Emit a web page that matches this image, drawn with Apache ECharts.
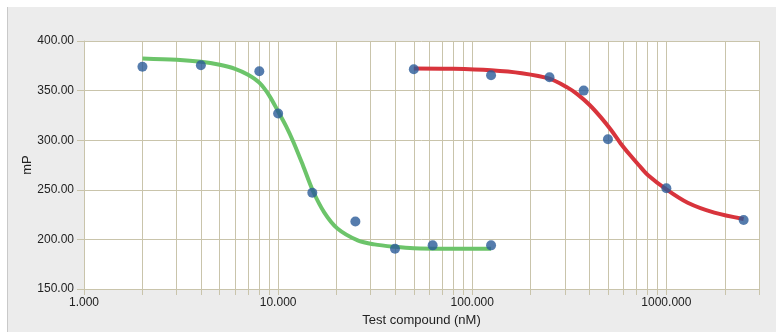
<!DOCTYPE html>
<html><head><meta charset="utf-8">
<script src="https://cdn.jsdelivr.net/npm/echarts@6/dist/echarts.min.js"></script>
<style>
html,body{margin:0;padding:0;background:#fff;}
#panel{position:absolute;left:7px;top:7px;width:769px;height:325px;background:#ececec;border-left:1px solid #c9c9c9;}
#chart{position:absolute;left:0;top:0;width:776px;height:332px;}
</style></head>
<body>
<div id="panel"></div>
<div id="chart"></div>
<script>
// Tick values for the log x-axis
const xLabelValues = [1, 10, 100, 1000];
const xTickValues = [1,2,3,4,5,6,7,8,9,10,20,30,40,50,60,70,80,90,100,200,300,400,500,600,700,800,900,1000,2000,3000];
const yTicks = [150, 200, 250, 300, 350, 400];

// Data points (blue dots)
const dotsX = [2, 4, 8, 10, 15, 25, 40, 62.5, 125, 50, 125, 250, 375, 500, 1000, 2500];
const dotsY = [374, 375.5, 369.5, 327, 247, 218, 190.5, 194, 194, 371.5, 365.5, 363.5, 350, 301, 251.5, 219.5];

// Green fitted curve
const greenX = [2, 3, 4, 5, 6, 7, 8, 9, 10, 11, 12, 13.4, 15.1, 17.3, 20.2, 25.7, 31.3, 40, 50, 70, 125];
const greenY = [382.4, 381, 379, 376, 372, 366, 358, 345, 329, 314, 298, 275, 249, 227, 211, 199, 195, 192.5, 191, 190.5, 190.5];

// Red fitted curve
const redX = [50, 80, 125, 180, 250, 310, 350, 400, 460, 520, 580, 650, 720, 802, 1000, 1288, 1766, 2500];
const redY = [372.3, 372, 370.5, 367.5, 362, 353, 346, 336, 323, 310, 297, 285, 275, 265, 250.5, 237, 227, 220.5];

const zip = (a, b) => a.map((v, i) => [v, b[i]]);
const gridColor = '#c9c4ab';

const chart = echarts.init(document.getElementById('chart'), null, {renderer: 'canvas'});
chart.setOption({
  animation: false,
  backgroundColor: 'transparent',
  grid: {left: 84, right: 17, top: 41, bottom: 43, show: true, backgroundColor: '#fff', borderWidth: 0},
  xAxis: {
    type: 'log', logBase: 10, min: 1, max: 3000,
    name: 'Test compound (nM)', nameLocation: 'middle', nameGap: 24,
    nameTextStyle: {fontFamily: 'Liberation Sans', fontSize: 13, color: '#222'},
    axisLine: {show: true, lineStyle: {color: gridColor, width: 1}},
    axisTick: {show: true, length: 6, customValues: xTickValues, lineStyle: {color: gridColor}},
    axisLabel: {customValues: xLabelValues, formatter: v => Number(v).toFixed(3), fontFamily: 'Liberation Sans', fontSize: 12, color: '#222', margin: 8},
    splitLine: {show: true, lineStyle: {color: gridColor, width: 1}},
    minorTick: {show: false}
  },
  yAxis: {
    type: 'value', min: yTicks[0], max: yTicks[yTicks.length - 1], interval: 50,
    name: 'mP', nameLocation: 'middle', nameGap: 50, nameRotate: 90, nameMoveOverlap: false,
    nameTextStyle: {fontFamily: 'Liberation Sans', fontSize: 13, color: '#222'},
    axisLine: {show: true, lineStyle: {color: gridColor, width: 1}},
    axisTick: {show: true, length: 7, lineStyle: {color: gridColor}},
    axisLabel: {formatter: v => v.toFixed(2), fontFamily: 'Liberation Sans', fontSize: 12, color: '#222', margin: 10},
    splitLine: {show: true, lineStyle: {color: gridColor, width: 1}}
  },
  series: [
    {type: 'line', data: zip(greenX, greenY), smooth: 0.3, symbol: 'none',
     lineStyle: {color: '#6cc46a', width: 4}, z: 2},
    {type: 'line', data: zip(redX, redY), smooth: 0.3, symbol: 'none',
     lineStyle: {color: '#d8343c', width: 4}, z: 2},
    {type: 'scatter', data: zip(dotsX, dotsY), symbolSize: 10,
     itemStyle: {color: '#2a5b98'}, z: 3}
  ]
});
</script>
</body></html>
